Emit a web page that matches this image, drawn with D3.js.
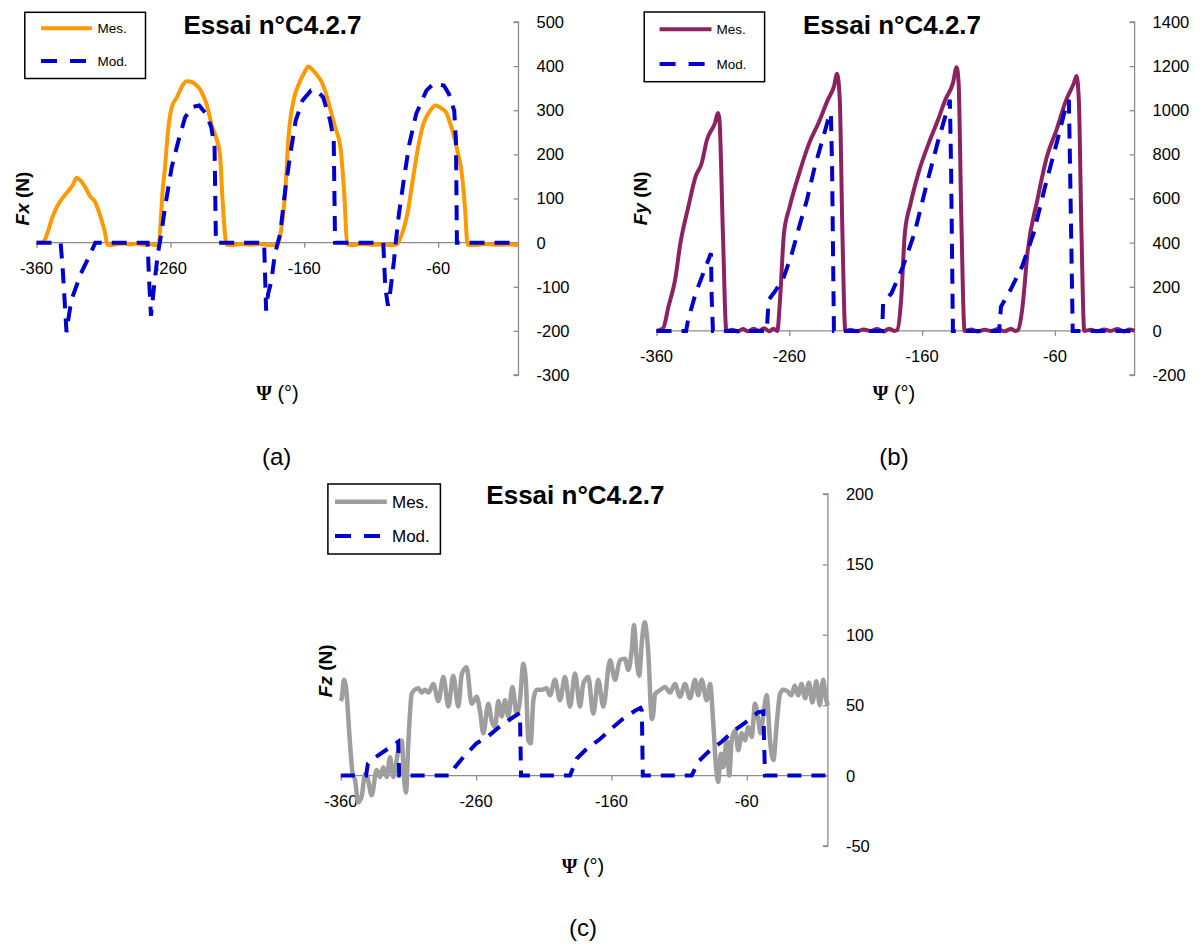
<!DOCTYPE html>
<html><head><meta charset="utf-8">
<script src="https://cdn.jsdelivr.net/npm/d3@7"></script>
<style>
body{margin:0;background:#fff;}
svg{display:block;}
text{font-family:"Liberation Sans",Arial,sans-serif;}
</style></head>
<body>
<svg id="chart" width="1203" height="945"></svg>
<script>
// ---------- DATA ----------
const title = "Essai n°C4.2.7";
const legendLabels = ["Mes.", "Mod."];
const xTicks = [-360, -260, -160, -60];
const yTicksA = [-300, -200, -100, 0, 100, 200, 300, 400, 500];
const yTicksB = [-200, 0, 200, 400, 600, 800, 1000, 1200, 1400];
const yTicksC = [-50, 0, 50, 100, 150, 200];
const captions = ["(a)", "(b)", "(c)"];

// (a) Fx  [psi, N]
const fxMes = [[-360,0],[-355,1],[-352,20],[-349,50],[-345,80],[-340,103],[-336,118],[-333,130],[-330,147],[-328,143],[-326,137],[-323,122],[-320,105],[-316,91],[-314,75],[-312,57],[-309,25],[-307,-5],[-304,-6],[-300,-3],[-295,-2],[-290,-4],[-285,-2],[-280,-5],[-275,-3],[-271,-6],[-269,-4],[-267,57],[-266,110],[-264,171],[-262,246],[-259,307],[-255,330],[-251,356],[-248,366],[-244,364],[-241,358],[-238,348],[-235,330],[-233,314],[-231,290],[-229,265],[-226,239],[-223,201],[-221,95],[-218,-5],[-214,-6],[-208,-3],[-200,-5],[-193,-3],[-186,-6],[-180,-4],[-177,35],[-174,125],[-172,231],[-168,322],[-164,360],[-160,385],[-157,399],[-154,392],[-150,378],[-147,364],[-144,340],[-141,307],[-137,262],[-133,216],[-130,103],[-128,-3],[-124,-6],[-118,-3],[-110,-5],[-100,-4],[-95,-6],[-91,-4],[-89,5],[-87,20],[-83,65],[-79,141],[-75,216],[-71,269],[-66,299],[-62,311],[-58,305],[-54,295],[-51,270],[-48,239],[-45,200],[-43,171],[-40,80],[-38,-5],[-33,-6],[-25,-3],[-15,-5],[-5,-4],[0,-6]];
const fxMod = [[-360,0],[-342,0],[-340.5,-56],[-339,-131],[-337.6,-203],[-336,-169],[-334,-131],[-327,-71],[-321,-33],[-316,0],[-277,0],[-276,-79],[-274.5,-166],[-272,-94],[-269.4,-26],[-266.8,20],[-264,80],[-259,171],[-254,231],[-249,284],[-244,307],[-238.5,311],[-233.4,292],[-229.5,262],[-227,216],[-226,0],[-190,0],[-188.5,-154],[-187,-116],[-184.5,-86],[-182,-26],[-178,20],[-174,125],[-170,209],[-166.4,277],[-161.3,322],[-155,345],[-151,345],[-146,330],[-140.7,277],[-138,231],[-137,0],[-101,0],[-99.5,-101],[-97.5,-143],[-95.7,-109],[-93,-41],[-91.8,-3],[-89.3,65],[-85.4,148],[-81.5,224],[-76.4,292],[-68.7,345],[-63.5,360],[-55.7,356],[-52,337],[-48,299],[-46.7,231],[-46,0],[0,0]];

// (b) Fy
const fyMes = [[-360,0],[-355,12],[-351,110],[-346,231],[-342,398],[-336,563],[-330.5,700],[-326,760],[-322,866],[-316,942],[-313.7,987],[-312.6,957],[-310,443],[-307.4,0],[-303,5],[-299,-3],[-295,8],[-291,-2],[-287,10],[-283,0],[-279,12],[-275,-2],[-272,10],[-269,0],[-267,141],[-264,443],[-259.7,563],[-252.5,715],[-245,851],[-238,942],[-231,1047],[-226.4,1107],[-224,1165],[-222,1047],[-220,443],[-217.8,0],[-214,5],[-209,-2],[-204,6],[-199,0],[-194,8],[-189,-3],[-185,10],[-181,0],[-178.7,5],[-175.8,141],[-173,443],[-168.6,579],[-162.8,715],[-154,866],[-148,957],[-142.6,1047],[-136.8,1123],[-134,1195],[-132.5,1123],[-130.5,518],[-128,0],[-123,6],[-118,-3],[-113,5],[-108,0],[-103,8],[-98,-2],[-93,10],[-90,0],[-87.7,5],[-84.7,95],[-80.4,367],[-73.2,594],[-66,790],[-58.8,911],[-51.5,1047],[-45.7,1123],[-43.7,1155],[-42,1047],[-40,443],[-37.9,0],[-33,5],[-28,-2],[-23,6],[-18,0],[-13,8],[-8,-3],[-4,6],[0,0]];
const fyMod = [[-360,0],[-337.7,0],[-336.2,50],[-330.5,171],[-324.7,262],[-319,352],[-318.4,141],[-317.5,0],[-277,0],[-275.5,141],[-270,186],[-264,246],[-258,352],[-252.5,473],[-246.7,594],[-240.8,745],[-235,866],[-230.8,957],[-228.7,987],[-227.8,745],[-226.4,0],[-190,0],[-189.4,126],[-183,171],[-174.4,292],[-165.7,443],[-157,654],[-148.4,851],[-142.6,971],[-139.1,1047],[-138.2,745],[-136.8,0],[-102,0],[-100.6,110],[-93.4,186],[-84.7,292],[-76,443],[-67.4,654],[-58.7,851],[-53,987],[-49.5,1047],[-48.6,745],[-46.6,0],[0,0]];

// (c) Fz
const fzMes = [[-360,53],[-359.3,55],[-357.6,68],[-356.2,63],[-353.2,23],[-351.2,1],[-349.5,-3],[-347.1,-19],[-344.6,-15],[-342.1,1],[-340.4,-1],[-337.2,-14],[-333.5,4],[-331,-1],[-328.6,6],[-326.1,-1],[-323.6,13],[-321.2,-1],[-317.5,18],[-315,25],[-313.3,-1],[-311.8,-12],[-310.1,23],[-307.6,58],[-305.2,61],[-302.7,62],[-300.2,59],[-297.8,61],[-295.3,59],[-291.6,65],[-287.9,53],[-284.2,70],[-280.5,49],[-276.9,71],[-273.2,49],[-270.6,72],[-267,77],[-263.3,51],[-259.6,56],[-257,45],[-254.7,30],[-251,51],[-248.5,39],[-246,34.5],[-243.6,53],[-241.1,42],[-238.6,53.5],[-236.2,42],[-233.2,63],[-230,44],[-227.6,53.5],[-225.1,79.5],[-223.1,65],[-221.4,25],[-219.6,23],[-217.7,53.5],[-215.2,61],[-211.5,61],[-207.8,62],[-205.4,57],[-201.7,68],[-198,53.5],[-194.3,70],[-190.6,49],[-186.9,72.5],[-183.2,49],[-180.8,65],[-177.1,70],[-173.4,44],[-169.7,68],[-166,49],[-161,82],[-157.3,68],[-153.7,82],[-150,83],[-147.5,75],[-145,89],[-143.3,107],[-141.3,82],[-139.4,71],[-137.5,95],[-135.5,109],[-132.8,88],[-130.1,40],[-129,44],[-127.8,58],[-124.1,60.6],[-120.4,63],[-116.7,59],[-113,65],[-109.3,56],[-105.6,65],[-101.9,55],[-98.2,68],[-95.8,57],[-93.3,68],[-89.6,53.5],[-87.1,65],[-84.7,37],[-82.7,6],[-81,-4.5],[-79.2,15.6],[-77.3,6],[-74.8,25],[-72.9,0],[-71.1,25],[-68.6,32],[-66.2,18],[-63.7,30],[-61.3,25],[-58.8,34.5],[-56.3,27.5],[-53.9,51],[-51.4,39],[-49.7,30],[-47.7,44],[-45.2,57],[-42.8,25],[-40.3,11],[-37.8,37],[-35.4,58],[-33,61],[-30,60],[-27,57],[-24.5,64],[-22,57],[-19.5,65],[-16.8,55],[-14,66],[-11.5,52],[-8.5,67],[-6,50],[-3.5,68],[-1.5,55],[0,50]];
const fzMod = [[-360,0],[-341.3,0],[-340,8.5],[-337.4,11],[-326.8,18],[-317.6,24],[-316.8,0],[-279.3,0],[-275.6,6],[-269.5,13],[-259.6,23],[-252.2,27],[-243.6,34],[-234.9,40],[-227.6,44.5],[-226.8,0],[-190.6,0],[-185.7,12],[-178.3,19],[-168.4,26],[-159.8,33.5],[-151.2,40.5],[-142.6,46],[-138.5,48],[-137.5,46],[-136.8,0],[-100.6,0],[-95.8,10],[-87.1,18],[-78.5,24],[-69.9,31.5],[-61.3,37.5],[-51.4,45],[-47.7,45.6],[-46.5,0],[0,0]];

// ---------- DRAW ----------
const svg = d3.select("#chart");
const axisColor = "#8c8c8c";
const modColor = "#0000cc";

function drawPanel(cfg) {
  const g = svg.append("g");
  const x = d3.scaleLinear().domain([-360, 0]).range(cfg.xRange);
  const y = d3.scaleLinear().domain(cfg.yDomain).range(cfg.yRange);

  // right y axis
  const yAxis = d3.axisLeft(y).tickValues(cfg.yTicks).tickSize(5).tickFormat("");
  const ya = g.append("g").attr("transform", `translate(${x(0)},0)`).call(yAxis);
  ya.selectAll("path,line").attr("stroke", axisColor).attr("stroke-width", 1.3);
  ya.select(".domain").attr("d", `M-5,${y(cfg.yDomain[0])}H0V${y(cfg.yDomain[1])}H-5`);
  g.selectAll(".ylab").data(cfg.yTicks).enter().append("text")
    .attr("x", x(0) + 18).attr("y", d => y(d)).attr("dy", "0.36em")
    .attr("font-size", 16.5).attr("fill", "#000").text(d => d);

  // x axis at y=0
  const xAxis = d3.axisBottom(x).tickValues(xTicks).tickSize(5).tickFormat("");
  const xa = g.append("g").attr("transform", `translate(0,${y(0)})`).call(xAxis);
  xa.selectAll("path,line").attr("stroke", axisColor).attr("stroke-width", 1.3);
  xa.select(".domain").attr("d", `M${x(-360)},0H${x(0)}`);
  g.selectAll(".xlab").data(xTicks).enter().append("text")
    .attr("x", d => x(d)).attr("y", y(0) + 31).attr("text-anchor", "middle")
    .attr("font-size", 16.5).attr("fill", "#000").text(d => d);

  const mesLine = d3.line().curve(d3.curveMonotoneX).x(d => x(d[0])).y(d => y(d[1]));
  const modLine = d3.line().x(d => x(d[0])).y(d => y(d[1]));
  g.append("path").datum(cfg.mes).attr("d", mesLine).attr("fill", "none")
    .attr("stroke", cfg.mesColor).attr("stroke-width", cfg.mesWidth).attr("stroke-linejoin", "round");
  g.append("path").datum(cfg.mod).attr("d", modLine).attr("fill", "none")
    .attr("stroke", modColor).attr("stroke-width", 4).attr("stroke-dasharray", cfg.dash);

  // title
  g.append("text").attr("x", cfg.title[0]).attr("y", cfg.title[1]).attr("text-anchor", "middle")
    .attr("font-size", 26).attr("font-weight", "bold").text(title);

  // legend
  const L = cfg.legend;
  g.append("rect").attr("x", L.x0).attr("y", L.y0).attr("width", L.x1 - L.x0).attr("height", L.y1 - L.y0)
    .attr("fill", "#fff").attr("stroke", "#000").attr("stroke-width", 1.5);
  g.append("line").attr("x1", L.lx0).attr("x2", L.lx1).attr("y1", L.ly[0]).attr("y2", L.ly[0])
    .attr("stroke", cfg.mesColor).attr("stroke-width", cfg.mesWidth);
  g.append("line").attr("x1", L.lx0).attr("x2", L.lx1).attr("y1", L.ly[1]).attr("y2", L.ly[1])
    .attr("stroke", modColor).attr("stroke-width", 4).attr("stroke-dasharray", L.dash);
  legendLabels.forEach((t, i) => {
    g.append("text").attr("x", L.tx).attr("y", L.ly[i]).attr("dy", "0.35em")
      .attr("font-size", L.fs).text(t);
  });

  // y label (rotated)
  const yl = g.append("text").attr("transform", `translate(${cfg.ylab[0]},${cfg.ylab[1]}) rotate(-90)`)
    .attr("text-anchor", "middle").attr("dy", "0.35em").attr("font-size", 19).attr("font-weight", "bold");
  yl.append("tspan").attr("font-style", "italic").text("F" + cfg.sub);
  yl.append("tspan").text(" (N)");

  // x label
  const xl = g.append("text").attr("x", cfg.xlab[0]).attr("y", cfg.xlab[1]).attr("text-anchor", "middle").attr("font-size", 20);
  xl.append("tspan").attr("font-family", "Liberation Serif, serif").attr("font-weight", "bold").text("Ψ");
  xl.append("tspan").text(" (°)");

  // caption
  g.append("text").attr("x", cfg.cap[0]).attr("y", cfg.cap[1]).attr("text-anchor", "middle")
    .attr("font-size", 24).text(cfg.capText);
}

drawPanel({
  xRange: [36.5, 518.5], yDomain: [-300, 500], yRange: [375, 22], yTicks: yTicksA,
  mes: fxMes, mod: fxMod, mesColor: "#ff9900", mesWidth: 4, dash: "15,10",
  title: [272.5, 34],
  legend: {x0: 24.8, y0: 12.3, x1: 145.5, y1: 78.5, lx0: 41, lx1: 92, ly: [28.3, 61], tx: 97.5, fs: 13.5, dash: "16,13"},
  ylab: [22.4, 198.5], sub: "x", xlab: [277.5, 400], cap: [276.7, 465], capText: captions[0]
});
drawPanel({
  xRange: [656.5, 1134.6], yDomain: [-200, 1400], yRange: [375, 22], yTicks: yTicksB,
  mes: fyMes, mod: fyMod, mesColor: "#8c2360", mesWidth: 4, dash: "15,10",
  title: [892, 33.5],
  legend: {x0: 644.2, y0: 12, x1: 764.6, y1: 81.7, lx0: 659.6, lx1: 711.5, ly: [29.3, 64], tx: 716.5, fs: 13.5, dash: "16,13"},
  ylab: [640.4, 198.3], sub: "y", xlab: [894, 400], cap: [894, 465], capText: captions[1]
});
drawPanel({
  xRange: [340.8, 827.9], yDomain: [-50, 200], yRange: [846, 494], yTicks: yTicksC,
  mes: fzMes, mod: fzMod, mesColor: "#9e9e9e", mesWidth: 4.5, dash: "14,10",
  title: [575.4, 504],
  legend: {x0: 327.9, y0: 484, x1: 440.4, y1: 554, lx0: 335, lx1: 386.8, ly: [501.7, 536], tx: 392, fs: 17, dash: "16,13"},
  ylab: [325, 670.8], sub: "z", xlab: [583, 873], cap: [583, 936], capText: captions[2]
});
</script>
</body></html>
